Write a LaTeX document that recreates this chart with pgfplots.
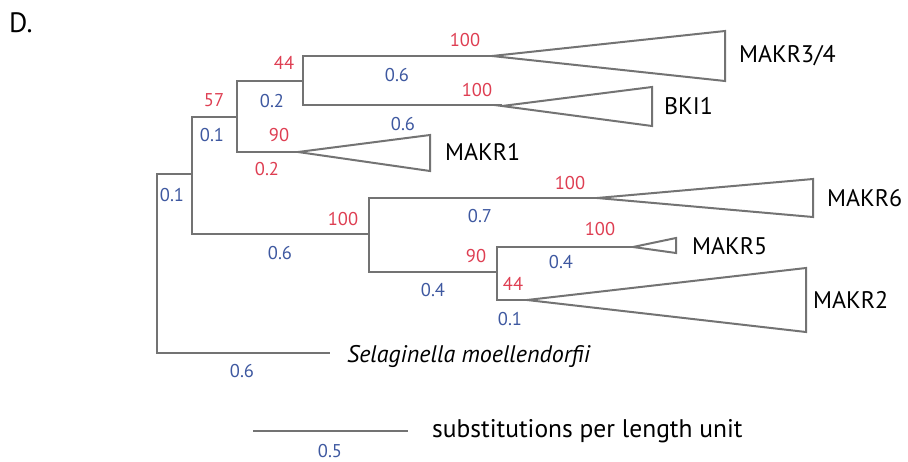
\documentclass[border=0pt]{standalone}
\usepackage{fontspec}
\setmainfont{PT Sans}
\usepackage{pgfplots}
\pgfplotsset{compat=1.18}
\definecolor{ln}{RGB}{115,115,115}
\definecolor{rd}{RGB}{222,62,82}
\definecolor{bl}{RGB}{62,88,160}
\begin{document}
\begin{tikzpicture}
\begin{axis}[width=908pt, height=461pt, scale only axis,
  xmin=0, xmax=908, ymin=0, ymax=461, y dir=reverse,
  hide axis, clip=false]
% frame that fixes the page size
\addplot[draw=none] coordinates {(0,0)(908,461)};
% branches
\addplot[ln, line width=2pt] coordinates {(192,174)(157,174)(157,353)(330,353)};
\addplot[ln, line width=2pt] coordinates {(237,117)(192,117)(192,234)(369,234)};
\addplot[ln, line width=2pt] coordinates {(303,81)(237,81)(237,152)(298,152)};
\addplot[ln, line width=2pt] coordinates {(492,56)(303,56)(303,105)(502,105)};
\addplot[ln, line width=2pt] coordinates {(597,198)(369,198)(369,272)(497,272)};
\addplot[ln, line width=2pt] coordinates {(633,247)(497,247)(497,300)(527,300)};
\addplot[ln, line width=2pt] coordinates {(253,431)(408,431)};
% collapsed clades
\addplot[ln, line width=2pt, fill=white] coordinates {(492,56)(725,31)(725,81)} -- cycle;
\addplot[ln, line width=2pt, fill=white] coordinates {(502,106)(652,87)(652,126)} -- cycle;
\addplot[ln, line width=2pt, fill=white] coordinates {(298,152)(430,135)(430,171)} -- cycle;
\addplot[ln, line width=2pt, fill=white] coordinates {(597,198)(813,179)(813,217)} -- cycle;
\addplot[ln, line width=2pt, fill=white] coordinates {(633,247)(676,238)(676,253)} -- cycle;
\addplot[ln, line width=2pt, fill=white] coordinates {(527,300)(806,268)(806,332)} -- cycle;
% bootstrap values
\begin{scope}[every node/.style={font=\fontsize{18.5}{20}\selectfont, inner sep=0pt}]
\node[rd] at (axis cs:465,40) {100};
\node[rd] at (axis cs:284,63) {44};
\node[rd] at (axis cs:214,100) {57};
\node[rd] at (axis cs:279,135) {90};
\node[rd] at (axis cs:267,169) {0.2};
\node[rd] at (axis cs:477,90) {100};
\node[rd] at (axis cs:570,183) {100};
\node[rd] at (axis cs:343,219) {100};
\node[rd] at (axis cs:600,229) {100};
\node[rd] at (axis cs:476,256) {90};
\node[rd] at (axis cs:513,284) {44};
\node[bl] at (axis cs:397,75) {0.6};
\node[bl] at (axis cs:272,101) {0.2};
\node[bl] at (axis cs:212,135) {0.1};
\node[bl] at (axis cs:403,124) {0.6};
\node[bl] at (axis cs:172,195) {0.1};
\node[bl] at (axis cs:480,216) {0.7};
\node[bl] at (axis cs:280,253) {0.6};
\node[bl] at (axis cs:561,262) {0.4};
\node[bl] at (axis cs:433,290) {0.4};
\node[bl] at (axis cs:510,319) {0.1};
\node[bl] at (axis cs:242,371) {0.6};
\node[bl] at (axis cs:330,451) {0.5};
\end{scope}
% clade labels
\begin{scope}[every node/.style={font=\fontsize{24}{26}\selectfont, inner sep=0pt, anchor=west}]
\node at (axis cs:739,56) {MAKR3/4};
\node at (axis cs:664,106) {BKI1};
\node at (axis cs:445,152) {MAKR1};
\node at (axis cs:827,198) {MAKR6};
\node at (axis cs:692,246) {MAKR5};
\node at (axis cs:813,300) {MAKR2};
\node at (axis cs:347,356) {\itshape Selaginella moellendorfii};
\node[font=\fontsize{25.5}{27}\selectfont] at (axis cs:432,431) {substitutions per length unit};
\node[font=\fontsize{28}{30}\selectfont] at (axis cs:9,23) {D.};
\end{scope}
\end{axis}
\end{tikzpicture}
\end{document}
